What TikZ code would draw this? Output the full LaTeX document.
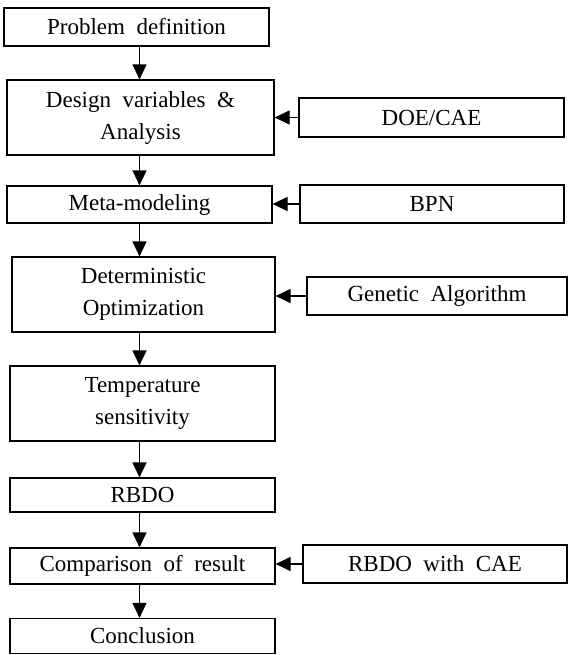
\documentclass[tikz,border=0pt]{standalone}
\usepackage{fontspec}
\setmainfont{Liberation Serif}
\usetikzlibrary{arrows.meta}

\newcommand{\boxfont}{\fontsize{11.5}{16}\selectfont\spaceskip=0.5em plus 0.1em}

\begin{document}
\begin{tikzpicture}[x=0.5pt,y=-0.5pt,
  box/.style={draw, line width=0.6pt, inner sep=0pt, align=center, font=\boxfont},
  arr/.style={line width=0.6pt, -{Triangle[length=7.5pt,width=7pt]}}]

\useasboundingbox (0,0) rectangle (568,655);

% main flow, top to bottom
\node[box, minimum width=132.5pt, minimum height=19pt] (prob) at (136.5,27) {Problem definition};
\node[box, minimum width=133.5pt, minimum height=37.5pt] (design) at (140.5,117.5) {Design variables \&\\Analysis};
\node[box, minimum width=132.5pt, minimum height=18.5pt] (meta) at (139.5,204.5) {Meta-modeling};
\node[box, minimum width=131.5pt, minimum height=37.5pt] (determ) at (143.5,294.5) {Deterministic\\Optimization};
\node[box, minimum width=132.5pt, minimum height=37.5pt] (temp) at (142.5,403.5) {Temperature\\sensitivity};
\node[box, minimum width=132.5pt, minimum height=17pt] (rbdo) at (142.5,495) {RBDO};
\node[box, minimum width=132.5pt, minimum height=18pt] (comp) at (142.5,566) {Comparison of result};
\node[box, minimum width=132.5pt, minimum height=17.5pt] (concl) at (142.5,636) {Conclusion};

% tools on the right
\node[box, minimum width=132.5pt, minimum height=19.5pt] (doe) at (431.5,117.5) {DOE/CAE};
\node[box, minimum width=132pt, minimum height=19pt] (bpn) at (432,204) {BPN};
\node[box, minimum width=130pt, minimum height=19pt] (ga) at (437,296) {Genetic Algorithm};
\node[box, minimum width=132pt, minimum height=19pt] (rwc) at (435,564) {RBDO with CAE};

\coordinate (spine) at (139.5,0);

\draw[arr] (prob.south -| spine) -- (design.north -| spine);
\draw[arr] (design.south -| spine) -- (meta.north -| spine);
\draw[arr] (meta.south -| spine) -- (determ.north -| spine);
\draw[arr] (determ.south -| spine) -- (temp.north -| spine);
\draw[arr] (temp.south -| spine) -- (rbdo.north -| spine);
\draw[arr] (rbdo.south -| spine) -- (comp.north -| spine);
\draw[arr] (comp.south -| spine) -- (concl.north -| spine);

\draw[arr] (doe.west) -- (design.east |- doe.west);
\draw[arr] (bpn.west) -- (meta.east |- bpn.west);
\draw[arr] (ga.west) -- (determ.east |- ga.west);
\draw[arr] (rwc.west) -- (comp.east |- rwc.west);

\end{tikzpicture}
\end{document}
